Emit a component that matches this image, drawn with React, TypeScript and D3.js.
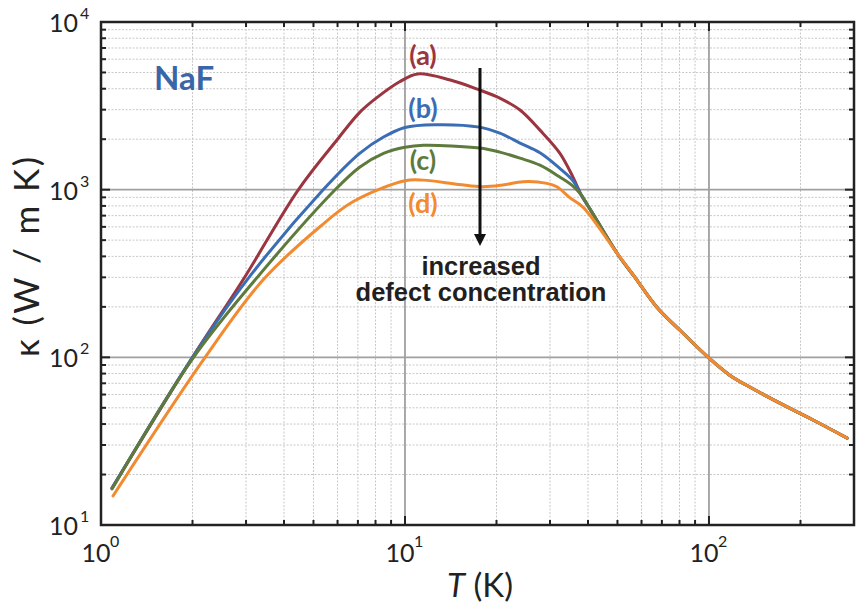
import React from "react";
import * as d3 from "d3";

// ---- data ----
const tailT = [38, 41, 49.8, 57, 67.4, 80.3, 100, 117, 140, 171, 220, 285];
const tailK = [930, 745, 419, 301, 199, 145, 99, 78.3, 64.7, 53.3, 42.3, 33.0];

const aT = [1.087, 2.0, 2.93, 4.45, 6.0, 7.11, 8.1, 9.6, 11.0, 14.1, 17.6, 20.5, 23.9, 27.8, 32.3, 35.7];
const aK = [16.6, 100, 289, 995, 2000, 2900, 3550, 4400, 4900, 4508, 3930, 3516, 2985, 2265, 1652, 1188];

const bT = [1.087, 2.0, 3.02, 5.37, 7.11, 8.5, 10, 12.5, 17.6, 20.5, 23.9, 27.8, 32.3, 35.7];
const bK = [16.6, 100, 289, 995, 1652, 2060, 2350, 2440, 2360, 2172, 1897, 1660, 1340, 1130];

const cT = [1.087, 2.0, 3.21, 5.88, 7.11, 8.5, 10, 11.5, 17.6, 20.5, 23.9, 27.8, 32.3, 35.7];
const cK = [16.4, 98, 289, 995, 1365, 1645, 1790, 1840, 1770, 1675, 1542, 1400, 1190, 1050];

const dT = [1.095, 2.2, 3.41, 5.25, 6.74, 10, 11.5, 15, 18, 21, 24.5, 29.3, 31.6, 35, 38.5];
const dK = [14.9, 100, 289, 601, 847, 1130, 1140, 1075, 1040, 1065, 1115, 1090, 1040, 890, 787];
const dTail = 2; // orange joins the shared tail from index 2 (49.8 K)

const seriesNames = ["(a)", "(b)", "(c)", "(d)"];
const seriesColors = ["#9b3540", "#3b6db4", "#5e7a3c", "#f28a30"];
const xMajor = [1, 10, 100];
const yMajor = [10, 100, 1000, 10000];

export default function App() {
  const L = 101, R = 854, T = 22, B = 525;
  const x = d3.scaleLog().domain([1, 300]).range([L, R]);
  const y = d3.scaleLog().domain([10, 10000]).range([B, T]);

  const series = [
    aT.map((t, i) => [t, aK[i]]).concat(tailT.map((t, i) => [t, tailK[i]])),
    bT.map((t, i) => [t, bK[i]]).concat(tailT.map((t, i) => [t, tailK[i]])),
    cT.map((t, i) => [t, cK[i]]).concat(tailT.map((t, i) => [t, tailK[i]])),
    dT.map((t, i) => [t, dK[i]]).concat(tailT.slice(dTail).map((t, i) => [t, tailK[i + dTail]])),
  ];

  const line = d3
    .line<number[]>()
    .x((d) => x(d[0]))
    .y((d) => y(d[1]))
    .curve(d3.curveCatmullRom.alpha(0.5));

  const xTicks = x.ticks().filter((v) => v > 1 && v < 300);
  const yTicks = y.ticks().filter((v) => v > 10 && v < 10000);
  const isMajor = (v: number) => Math.abs(Math.log10(v) - Math.round(Math.log10(v))) < 1e-9;

  const tickFont = "Lato, 'Open Sans', sans-serif";
  const boldFont = "Lato, 'Open Sans', sans-serif";
  const arial = "'Liberation Sans', Arial, sans-serif";

  return (
    <svg
      width={858}
      height={609}
      style={{ position: "absolute", left: 0, top: 0, background: "#fff" }}
    >
      <rect x={0} y={0} width={858} height={609} fill="#fff" />
      {/* minor grid */}
      {xTicks.filter((v) => !isMajor(v)).map((v) => (
        <line key={"gx" + v} x1={x(v)} x2={x(v)} y1={T} y2={B} stroke="#c8c8c8" strokeWidth={1} strokeDasharray="2,1.5" />
      ))}
      {yTicks.filter((v) => !isMajor(v)).map((v) => (
        <line key={"gy" + v} x1={L} x2={R} y1={y(v)} y2={y(v)} stroke="#c8c8c8" strokeWidth={1} strokeDasharray="2,1.5" />
      ))}
      {/* major grid */}
      {xTicks.filter(isMajor).map((v) => (
        <line key={"Gx" + v} x1={x(v)} x2={x(v)} y1={T} y2={B} stroke="#a0a0a0" strokeWidth={1.8} />
      ))}
      {yTicks.filter(isMajor).map((v) => (
        <line key={"Gy" + v} x1={L} x2={R} y1={y(v)} y2={y(v)} stroke="#a0a0a0" strokeWidth={1.8} />
      ))}

      {/* curves */}
      {series.map((s, i) => (
        <path key={"s" + i} d={line(s as number[][]) || ""} fill="none" stroke={seriesColors[i]} strokeWidth={3} strokeLinejoin="round" strokeLinecap="round" />
      ))}

      {/* frame */}
      <rect x={L} y={T} width={R - L} height={B - T} fill="none" stroke="#222" strokeWidth={2.5} />

      {/* ticks (inward) */}
      {xTicks.map((v) => {
        const len = isMajor(v) ? 9 : 5;
        return (
          <g key={"tx" + v}>
            <line x1={x(v)} x2={x(v)} y1={B} y2={B - len} stroke="#222" strokeWidth={2} />
            <line x1={x(v)} x2={x(v)} y1={T} y2={T + len} stroke="#222" strokeWidth={2} />
          </g>
        );
      })}
      {yTicks.map((v) => {
        const len = isMajor(v) ? 9 : 5;
        return (
          <g key={"ty" + v}>
            <line x1={L} x2={L + len} y1={y(v)} y2={y(v)} stroke="#222" strokeWidth={2} />
            <line x1={R} x2={R - len} y1={y(v)} y2={y(v)} stroke="#222" strokeWidth={2} />
          </g>
        );
      })}

      {/* y tick labels */}
      {yMajor.map((v) => (
        <g key={"yl" + v} fill="#222" fontFamily={tickFont}>
          <text x={78} y={y(v) + 10} fontSize={25} textAnchor="end">10</text>
          <text x={80} y={y(v) - 3} fontSize={16}>{Math.round(Math.log10(v))}</text>
        </g>
      ))}
      {/* x tick labels */}
      {xMajor.map((v) => (
        <g key={"xl" + v} fill="#222" fontFamily={tickFont}>
          <text x={x(v) - 5} y={562} fontSize={25} textAnchor="middle">10</text>
          <text x={x(v) + 9} y={547} fontSize={16}>{Math.round(Math.log10(v))}</text>
        </g>
      ))}

      {/* axis titles */}
      <text
        transform={`translate(39,257) rotate(-90)`}
        textAnchor="middle"
        fontSize={35}
        fontFamily={tickFont}
        fill="#222"
        textLength={200}
        lengthAdjust="spacing"
      >
        κ (W / m K)
      </text>
      <text x={480} y={597} textAnchor="middle" fontSize={33} fontFamily={tickFont} fill="#222">
        <tspan fontStyle="italic">T</tspan> (K)
      </text>

      {/* NaF */}
      <text x={154} y={90} fontSize={33} fontWeight="bold" fontFamily={boldFont} fill="#3a66a8">NaF</text>

      {/* series labels */}
      {seriesNames.map((n, i) => (
        <text key={"n" + i} x={423} y={[65, 118, 170, 213][i]} textAnchor="middle" fontSize={27} fontWeight="bold" fontFamily={boldFont} fill={seriesColors[i]}>
          {n}
        </text>
      ))}

      {/* arrow */}
      <line x1={480} x2={480} y1={68} y2={236} stroke="#111" strokeWidth={3} />
      <path d="M474,234 L486,234 L480,246 Z" fill="#111" />

      <text x={481} y={275} textAnchor="middle" fontSize={25.5} fontWeight="bold" fontFamily={arial} fill="#231f20">increased</text>
      <text x={481} y={301} textAnchor="middle" fontSize={25.5} fontWeight="bold" fontFamily={arial} fill="#231f20">defect concentration</text>
    </svg>
  );
}
